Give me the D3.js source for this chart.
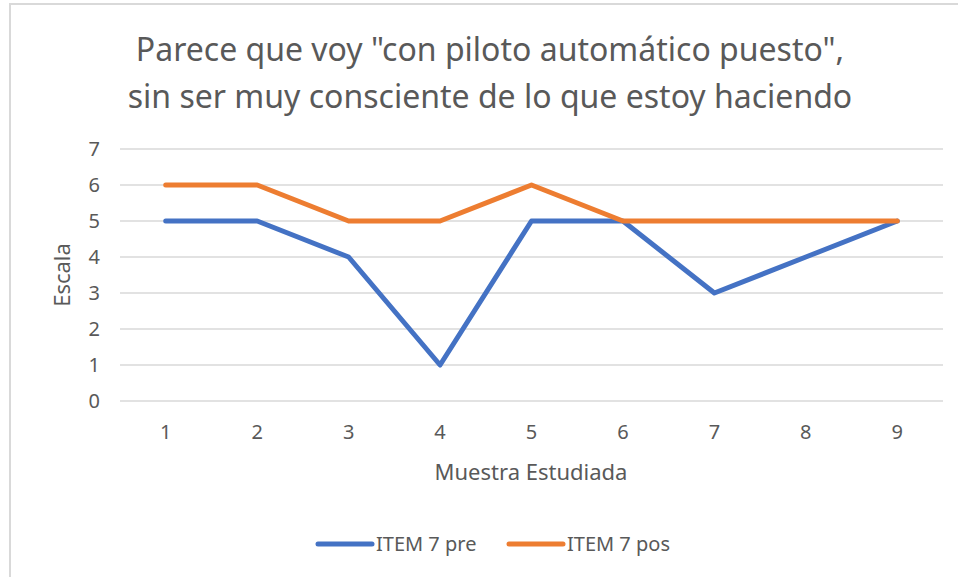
<!DOCTYPE html>
<html>
<head>
<meta charset="utf-8">
<script src="https://cdn.jsdelivr.net/npm/d3@7"></script>
<style>
  body { margin: 0; background: #fff; }
  text { font-family: "Noto Sans", sans-serif; fill: #595959; }
</style>
</head>
<body>
<div class="chart"></div>
<script>
const categories = ["1", "2", "3", "4", "5", "6", "7", "8", "9"];
const pre = [5, 5, 4, 1, 5, 5, 3, 4, 5];
const pos = [6, 6, 5, 5, 6, 5, 5, 5, 5];
const yTicks = [0, 1, 2, 3, 4, 5, 6, 7];
const seriesNames = ["ITEM 7 pre", "ITEM 7 pos"];
const colors = ["#4472C4", "#ED7D31"];

const width = 958;
const height = 577;

const svg = d3.select(".chart")
    .append("svg")
    .attr("width", width)
    .attr("height", height);

// outer chart border (top + left visible)
svg.append("rect")
    .attr("x", 10).attr("y", 4)
    .attr("width", 960).attr("height", 590)
    .attr("fill", "none")
    .attr("stroke", "#d9d9d9")
    .attr("stroke-width", 2);

const x = d3.scaleBand()
    .domain(categories)
    .range([120, 943]);

const y = d3.scaleLinear()
    .domain([0, 7])
    .range([401, 149]);

// gridlines
svg.selectAll(".grid")
    .data(yTicks)
    .enter()
    .append("line")
    .attr("x1", 120).attr("x2", 943)
    .attr("y1", d => y(d)).attr("y2", d => y(d))
    .attr("stroke", "#d9d9d9")
    .attr("stroke-width", 1.5);

// y axis labels
const yAxis = svg.append("g")
    .attr("transform", "translate(120,0)")
    .call(d3.axisLeft(y).tickValues(yTicks).tickFormat(d3.format("d")).tickSize(0).tickPadding(20));
yAxis.select(".domain").remove();
yAxis.selectAll("text")
    .attr("font-size", "20px")
    .attr("fill", "#595959")
    .style("font-family", "Noto Sans");

// x axis labels
const xAxis = svg.append("g")
    .attr("transform", "translate(0,401)")
    .call(d3.axisBottom(x).tickSize(0).tickPadding(24));
xAxis.select(".domain").remove();
xAxis.selectAll("text")
    .attr("font-size", "20px")
    .attr("fill", "#595959")
    .style("font-family", "Noto Sans");

const line = d3.line()
    .x((d, i) => x(categories[i]) + x.bandwidth() / 2)
    .y(d => y(d));

[pre, pos].forEach(function(s, i) {
  svg.append("path")
      .datum(s)
      .attr("d", line)
      .attr("fill", "none")
      .attr("stroke", colors[i])
      .attr("stroke-width", 5)
      .attr("stroke-linejoin", "round")
      .attr("stroke-linecap", "round");
});

// title
svg.append("text")
    .attr("x", 490).attr("y", 61)
    .attr("text-anchor", "middle")
    .attr("font-size", "32px")
    .text('Parece que voy "con piloto automático puesto",');
svg.append("text")
    .attr("x", 490).attr("y", 108)
    .attr("text-anchor", "middle")
    .attr("font-size", "32px")
    .text("sin ser muy consciente de lo que estoy haciendo");

// axis titles
svg.append("text")
    .attr("x", 531).attr("y", 480)
    .attr("text-anchor", "middle")
    .attr("font-size", "22px")
    .text("Muestra Estudiada");
svg.append("text")
    .attr("transform", "translate(70,275) rotate(-90)")
    .attr("text-anchor", "middle")
    .attr("font-size", "22px")
    .text("Escala");

// legend
const legend = svg.selectAll(".legend")
    .data(seriesNames)
    .enter()
    .append("g")
    .attr("transform", (d, i) => "translate(" + [318, 509][i] + ",544)");
legend.append("line")
    .attr("x1", 0).attr("x2", 54)
    .attr("y1", 0).attr("y2", 0)
    .attr("stroke", (d, i) => colors[i])
    .attr("stroke-width", 5)
    .attr("stroke-linecap", "round");
legend.append("text")
    .attr("x", 58).attr("y", 7)
    .attr("font-size", "20px")
    .text(d => d);
</script>
</body>
</html>
